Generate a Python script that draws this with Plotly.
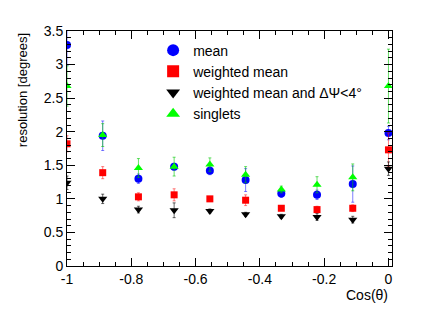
import plotly.graph_objects as go

x_vals = [-1.0, -0.8889, -0.7778, -0.6667, -0.5556, -0.4444, -0.3333, -0.2222, -0.1111, 0.0]

mean_y = [3.29, 1.94, 1.30, 1.48, 1.42, 1.28, 1.08, 1.06, 1.22, 1.98]
mean_err = [0.30, 0.22, 0.07, 0.05, 0.06, 0.17, 0.06, 0.07, 0.27, 0.10]

wmean_y = [1.82, 1.39, 1.03, 1.06, 1.00, 0.98, 0.86, 0.84, 0.86, 1.73]
wmean_err = [0.12, 0.09, 0.06, 0.09, 0.03, 0.08, 0.03, 0.05, 0.05, 0.25]

wcut_y = [1.24, 1.00, 0.84, 0.83, 0.82, 0.77, 0.74, 0.73, 0.69, 1.45]
wcut_err = [0.10, 0.07, 0.05, 0.11, 0.03, 0.03, 0.03, 0.05, 0.05, 0.10]

sing_y = [2.68, 1.95, 1.46, 1.48, 1.51, 1.36, 1.14, 1.21, 1.32, 2.68]
sing_err = [0.30, 0.17, 0.14, 0.14, 0.10, 0.12, 0.05, 0.12, 0.20, 0.55]

names = ["mean", "weighted mean", "weighted mean and \u0394\u03a8<4\u00b0", "singlets"]

x_tickvals = [-1, -0.8, -0.6, -0.4, -0.2, 0]
x_ticktext = ["-1", "-0.8", "-0.6", "-0.4", "-0.2", "0"]
y_tickvals = [0, 0.5, 1, 1.5, 2, 2.5, 3, 3.5]
y_ticktext = ["0", "0.5", "1", "1.5", "2", "2.5", "3", "3.5"]

x_title = "Cos(\u03b8)"
y_title = "resolution [degrees]"

series = [
    (names[0], mean_y, mean_err, "circle", "#0000ff", "rgba(0,0,255,0.5)", 8),
    (names[1], wmean_y, wmean_err, "square", "#ff0000", "rgba(255,0,0,0.5)", 7),
    (names[2], wcut_y, wcut_err, "triangle-down", "#000000", "rgba(0,0,0,0.6)", 8),
    (names[3], sing_y, sing_err, "triangle-up", "#00ff00", "rgba(0,200,0,0.6)", 8),
]

fig = go.Figure()
for name, ys, errs, sym, col, ecol, sz in series:
    fig.add_trace(go.Scatter(
        x=x_vals, y=ys, name=name, mode="markers",
        marker=dict(symbol=sym, color=col, size=sz, line=dict(width=0)),
        error_y=dict(type="data", array=errs, visible=True, color=ecol,
                     thickness=1, width=1.5),
        cliponaxis=True,
    ))

font = dict(family="Liberation Sans, Arial, sans-serif", size=14, color="black")

# page body adds an 8px margin; figure is sized so the page is 436x313
fig.update_layout(
    width=420, height=297, autosize=False,
    margin=dict(l=59, r=36, t=23, b=39, pad=0, autoexpand=False),
    paper_bgcolor="white", plot_bgcolor="white",
    font=font,
    showlegend=True,
    legend=dict(x=0.265, y=0.985, xanchor="left", yanchor="top",
                bgcolor="rgba(0,0,0,0)", font=dict(size=14),
                tracegroupgap=0, itemsizing="constant"),
)

fig.update_xaxes(
    range=[-1.0, 0.011], showgrid=False, zeroline=False, automargin=False,
    showline=True, linecolor="black", linewidth=1, mirror="ticks",
    ticks="inside", ticklen=8, tickcolor="black",
    tickvals=x_tickvals, ticktext=x_ticktext,
    minor=dict(dtick=0.05, tick0=0, ticks="inside", ticklen=4, tickcolor="black", showgrid=False),
)
fig.update_yaxes(
    range=[0, 3.5], showgrid=False, zeroline=False, automargin=False,
    showline=True, linecolor="black", linewidth=1, mirror="ticks",
    ticks="inside", ticklen=8, tickcolor="black",
    tickvals=y_tickvals, ticktext=y_ticktext,
    minor=dict(dtick=0.1, tick0=0, ticks="inside", ticklen=4, tickcolor="black", showgrid=False),
)

fig.add_annotation(text=x_title, xref="paper", yref="paper", x=0.994, y=-0.123,
                   xanchor="right", yanchor="middle", showarrow=False, font=dict(size=14))
fig.add_annotation(text=y_title, xref="paper", yref="paper", x=-0.138, y=1.0,
                   xanchor="center", yanchor="top", textangle=-90, showarrow=False,
                   font=dict(size=13))

fig.write_html("out.html")
